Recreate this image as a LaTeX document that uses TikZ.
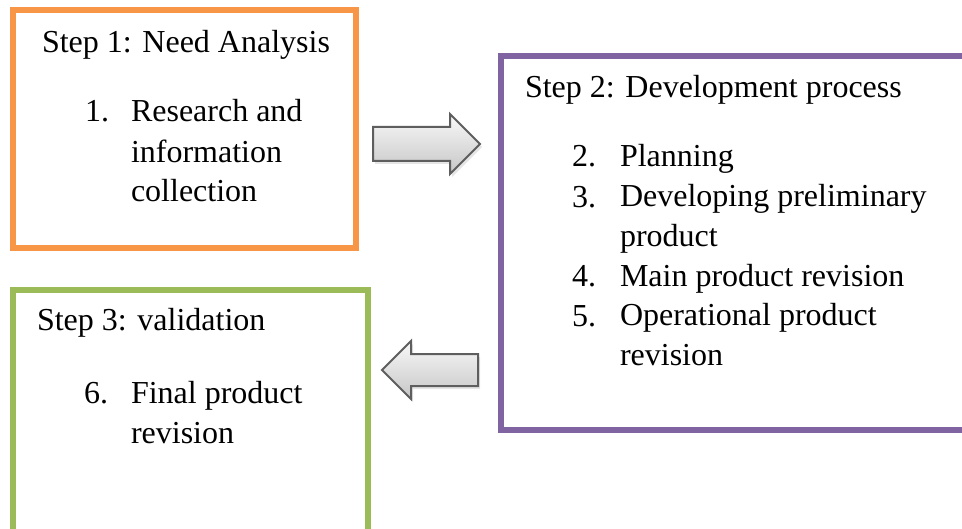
\documentclass[tikz,border=0pt]{standalone}
\usepackage{fontspec}
\setmainfont{Liberation Serif}
\usetikzlibrary{shapes.arrows,shadows,positioning}

\definecolor{needorange}{HTML}{F79646}
\definecolor{devpurple}{HTML}{8064A2}
\definecolor{valgreen}{HTML}{9BBB59}
\definecolor{arrowedge}{HTML}{5E5E5E}

\begin{document}
\begin{tikzpicture}[
      x=0.5pt, y=-0.5pt,
      every node/.style={font=\fontsize{16}{20}\selectfont, inner sep=0pt, outer sep=0pt},
      stepbox/.style={draw, rectangle, line width=3pt, anchor=north west},
      % multi-line texts sit on the baseline of their last line
      txt/.style={anchor=base west, align=left},
      bigarrow/.style={single arrow, draw=arrowedge, line width=1pt, anchor=tail,
                       inner xsep=0pt, inner ysep=8pt,
                       single arrow head extend=6.5pt, single arrow tip angle=90,
                       top color=gray!5, bottom color=gray!45,
                       drop shadow={shadow xshift=1pt, shadow yshift=-1.5pt,
                                    fill=gray!50, opacity=.4}}
  ]
    \useasboundingbox (0,0) rectangle (962,529);

    % the three steps
    \node[stepbox, draw=needorange, minimum width=171.5pt, minimum height=119pt] (need) at (13,10) {};
    \node[stepbox, draw=devpurple, minimum width=250pt, minimum height=187pt] (dev) at (501,56) {};
    \node[stepbox, draw=valgreen, minimum width=177.5pt, minimum height=140pt] (val) at (13,289.5) {};

    % step 1
    \node[txt] (needhead) at (42,53) {Step 1: Need Analysis};
    \node[txt] (n1) at (85,122) {1.};
    \node[txt] (t1) at (131,202) {Research and\\information\\collection};

    % step 2
    \node[txt] (devhead) at (525,98) {Step 2: Development process};
    \node[txt] (n2) at (572,167) {2.};
    \node[txt] (t2) at (620,167) {Planning};
    \node[txt] (n3) at (572,207) {3.};
    \node[txt] (t3) at (620,246) {Developing preliminary\\product};
    \node[txt] (n4) at (572,286) {4.};
    \node[txt] (t4) at (620,286) {Main product revision};
    \node[txt] (n5) at (572,326) {5.};
    \node[txt] (t5) at (620,365) {Operational product\\revision};

    % step 3
    \node[txt] (valhead) at (37,330) {Step 3: validation};
    \node[txt] (n6) at (84,403) {6.};
    \node[txt] (t6) at (131,443) {Final product\\revision};

    % block arrows between the steps
    \node[bigarrow, minimum height=53.5pt] (fwd) at (373,144) {};
    \node[bigarrow, minimum height=48pt, inner ysep=7.5pt,
          shape border rotate=180] (back) at (478,370) {};
  \end{tikzpicture}
\end{document}
